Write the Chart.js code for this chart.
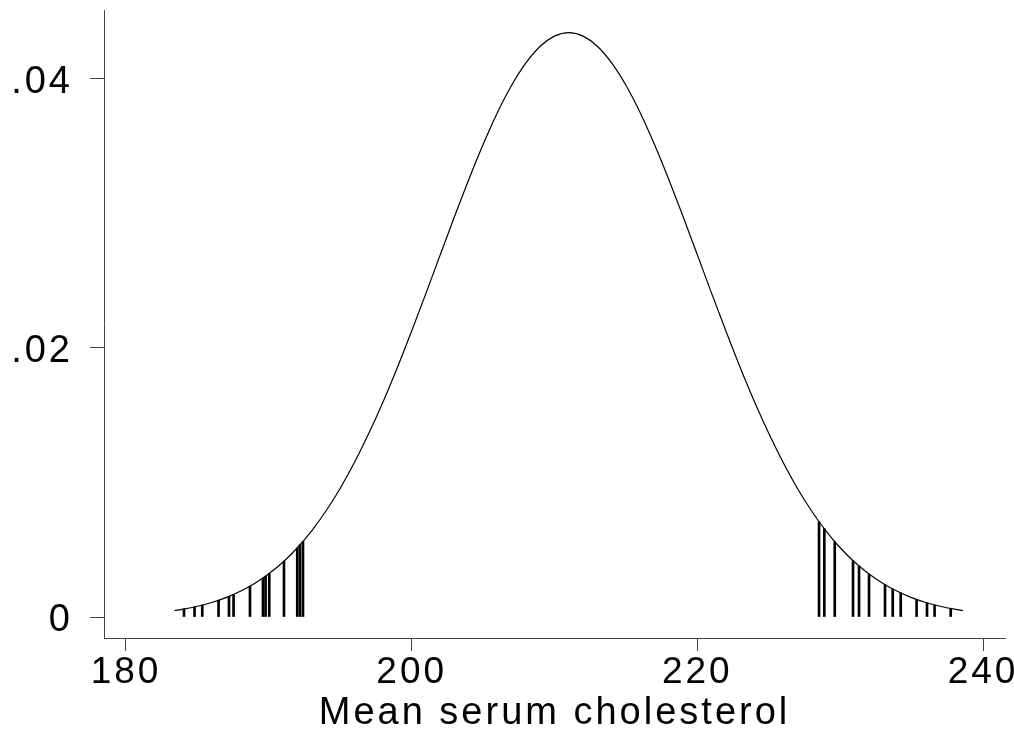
<!DOCTYPE html>
<html>
<head>
<meta charset="utf-8">
<style>
  html, body { margin: 0; padding: 0; background: #fff; }
  canvas { display: block; }
</style>
<script src="https://cdn.jsdelivr.net/npm/chart.js@4/dist/chart.umd.min.js"></script>
</head>
<body>
<canvas id="c" width="1014" height="734"></canvas>
<script>
// ---- data ----
const curveX = [183.4, 184, 185, 186, 187, 188, 189, 190, 191, 192, 193, 194, 195, 196, 197, 198, 199, 200,
  201, 202, 203, 204, 205, 206, 207, 208, 209, 210, 211, 212, 213, 214, 215, 216, 217, 218, 219, 220,
  221, 222, 223, 224, 225, 226, 227, 228, 229, 230, 231, 232, 233, 234, 235, 236, 237, 238, 238.6];
const curveY = [0.000482, 0.000585, 0.00080, 0.00108, 0.00144, 0.00191, 0.00249, 0.00321, 0.00408, 0.00514,
  0.00640, 0.00787, 0.00956, 0.01148, 0.01363, 0.01598, 0.01852, 0.02122, 0.02402, 0.02688, 0.02972,
  0.03247, 0.03506, 0.03742, 0.03946, 0.04112, 0.04236, 0.04311, 0.04337, 0.04311, 0.04236, 0.04112,
  0.03946, 0.03742, 0.03506, 0.03247, 0.02972, 0.02688, 0.02402, 0.02122, 0.01852, 0.01598, 0.01363,
  0.01148, 0.00956, 0.00787, 0.00640, 0.00514, 0.00408, 0.00321, 0.00249, 0.00191, 0.00144, 0.00108,
  0.00080, 0.000585, 0.000482];

const spikeX = [184.06, 184.80, 185.34, 186.48, 187.21, 187.53, 188.68, 189.59, 189.77, 190.03, 191.06, 191.99, 192.18, 192.39,
  228.52, 228.89, 229.62, 230.90, 231.32, 232.02, 233.14, 233.68, 234.24, 235.35, 236.08, 236.61, 237.74];
const spikeY = [0.000596, 0.000752, 0.000887, 0.001243, 0.001532, 0.001675, 0.002287, 0.002891, 0.003026, 0.003229, 0.004141, 0.005130, 0.005353, 0.005607,
  0.007074, 0.006547, 0.005595, 0.004180, 0.003783, 0.003189, 0.002397, 0.002077, 0.001784, 0.001306, 0.001056, 0.000901, 0.000635];

const xTicks = [180, 200, 220, 240];
const yTicks = [0, 0.02, 0.04];
const yTickLabels = ['0', '.02', '.04'];
const xTitle = 'Mean serum cholesterol';

// ---- chart ----
const FONT = 'Liberation Sans, Arial, Helvetica, sans-serif';
const AXIS = '#444';

const spacingPlugin = {
  id: 'spacing',
  beforeDraw(chart) { chart.ctx.letterSpacing = '3px'; },
  beforeUpdate(chart) { chart.ctx.letterSpacing = '3px'; }
};

new Chart(document.getElementById('c'), {
  type: 'line',
  data: {
    datasets: [
      {
        type: 'line',
        data: curveX.map((x, i) => ({ x: x, y: curveY[i] })),
        borderColor: '#000',
        borderWidth: 1.2,
        pointRadius: 0,
        fill: false,
        cubicInterpolationMode: 'monotone',
        order: 1
      },
      {
        type: 'bar',
        data: spikeX.map((x, i) => ({ x: x, y: spikeY[i] })),
        backgroundColor: '#000',
        borderWidth: 0,
        barThickness: 2,
        order: 2
      }
    ]
  },
  options: {
    responsive: false,
    animation: false,
    events: [],
    layout: { padding: { top: 10, right: 9, left: 0, bottom: 0 } },
    plugins: { legend: { display: false }, tooltip: { enabled: false }, title: { display: false } },
    scales: {
      x: {
        type: 'linear',
        min: 178.46,
        max: 241.54,
        offset: false,
        afterBuildTicks: s => { s.ticks = xTicks.map(v => ({ value: v })); },
        afterFit: s => { s.height = 96; s.paddingLeft = 0; s.paddingRight = 0; },
        grid: { drawOnChartArea: false, drawTicks: true, tickLength: 13, color: AXIS, lineWidth: 1, offset: false },
        border: { display: true, color: AXIS, width: 1 },
        ticks: {
          color: '#000', font: { family: FONT, size: 37 }, padding: 0,
          maxRotation: 0, autoSkip: false,
          callback: v => String(v)
        },
        title: {
          display: true, text: xTitle, color: '#000',
          font: { family: FONT, size: 38, lineHeight: 1 },
          padding: { top: 0, bottom: 1 }
        }
      },
      y: {
        type: 'linear',
        min: -0.001558,
        max: 0.04505,
        afterBuildTicks: s => { s.ticks = yTicks.map(v => ({ value: v })); },
        afterFit: s => { s.width = 104; s.paddingTop = 0; s.paddingBottom = 0; },
        grid: { drawOnChartArea: false, drawTicks: true, tickLength: 14, color: AXIS, lineWidth: 1 },
        border: { display: true, color: AXIS, width: 1 },
        ticks: {
          color: '#000', font: { family: FONT, size: 38 }, padding: 17, labelOffset: 4,
          autoSkip: false,
          callback: (v) => { const i = yTicks.findIndex(t => Math.abs(t - v) < 1e-9); return i >= 0 ? yTickLabels[i] : ''; }
        }
      }
    }
  },
  plugins: [spacingPlugin]
});
</script>
</body>
</html>
